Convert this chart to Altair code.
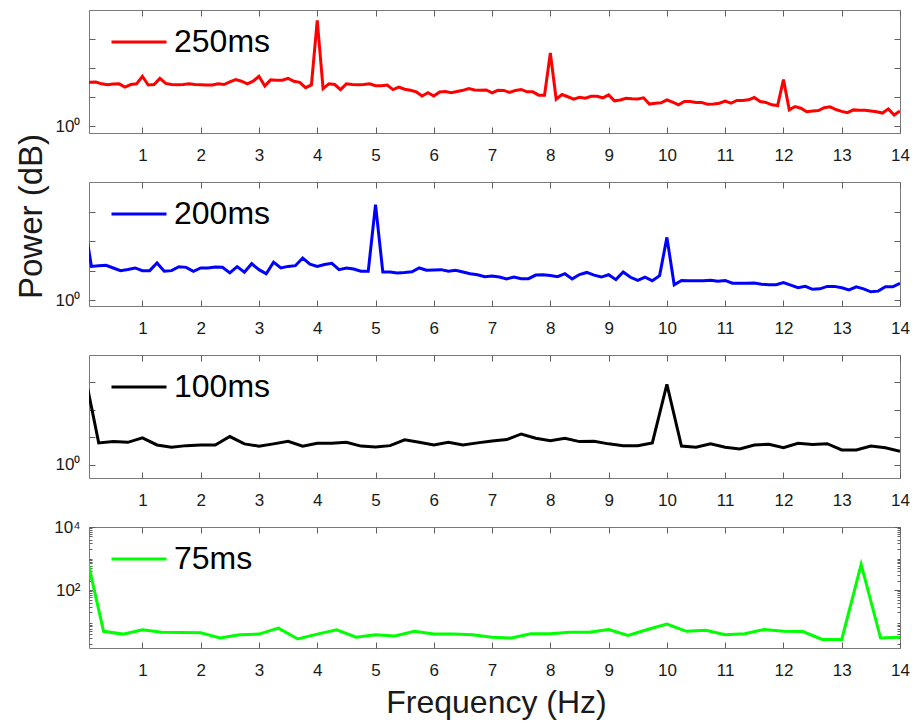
import altair as alt
import pandas as pd

FONT = "Liberation Sans"

# Power spectra (one value per frequency bin, bin 0 = DC) for each stimulus period
power_250 = [
    31, 32, 33, 28.5, 26.5, 28, 28.5, 22, 27, 28.5,
    52, 26, 27, 44, 29.5, 27, 26.5, 27, 28.5, 27,
    26.5, 26, 26, 28.5, 27, 33, 40, 35, 28.5, 35,
    52, 24, 39, 38, 38, 44, 35, 32, 21, 26,
    4400, 19.6, 28.5, 27, 18, 28.5, 27, 26.5, 27, 28.5,
    24.5, 24.5, 26, 18, 22, 18.5, 17, 15, 10.8, 14,
    10.8, 15, 15.5, 14, 15.5, 17, 19.6, 17.5, 17, 17.5,
    14, 17, 16.9, 14.3, 16.9, 18.2, 15.1, 15.1, 11.6, 11.6,
    330, 8.4, 12.2, 10.2, 8.5, 9.8, 9.1, 10.6, 10.6, 9.4,
    11.8, 7.4, 7.9, 9.1, 8.8, 8.6, 9.4, 5.7, 6.1, 6.3,
    7.9, 6.7, 5.4, 7.0, 7.0, 6.5, 6.5, 5.6, 5.7, 6.1,
    7.2, 6.1, 7.6, 7.6, 8.0, 9.6, 7.0, 6.5, 5.4, 5.1,
    40, 3.6, 4.7, 4.1, 3.1, 3.3, 3.4, 4.3, 4.6, 3.7,
    3.2, 2.9, 3.6, 3.5, 3.5, 3.3, 3.1, 2.8, 3.9, 2.4,
    3.3,
]
power_200 = [
    470,
    13.8, 14.6, 15, 12.2, 9.9, 10.9, 12.2, 9.9,
    9.9, 18, 9.4, 9.9, 13.5, 12.8, 9.4, 12.2,
    12.2, 13.1, 12.8, 8.3, 13.5, 8.7, 17, 10.7,
    7.8, 19.2, 12.2, 13.8, 14.6, 26.6, 16.5, 13.8,
    15.9, 17.5, 10.7, 12.2, 11.2, 9.4, 9.4, 1700,
    8.9, 8.9, 8.3, 8.5, 9.1, 12.2, 10.2, 10.4,
    10.7, 9.4, 10.2, 8.9, 7.8, 7.2, 6.2, 6.5,
    6.0, 5.2, 6.0, 5.3, 5.3, 7.0, 7.2, 6.8,
    6.2, 7.8, 5.2, 7.3, 8.6, 7.0, 6.0, 7.2,
    4.9, 8.9, 5.9, 4.6, 6.0, 4.5, 6.7, 133,
    3.3, 4.6, 4.5, 4.5, 4.5, 4.7, 4.3, 4.6,
    3.7, 3.7, 3.7, 3.8, 3.4, 3.3, 3.3, 3.9,
    3.2, 2.6, 2.9, 2.3, 2.4, 2.9, 2.9, 2.6,
    2.2, 2.8, 2.4, 1.9, 2.0, 2.8, 2.8, 3.7,
]
power_100 = [
    2570,
    6.3, 7.0, 6.6, 9.6,
    5.3, 4.4, 5.0, 5.3,
    5.3, 10.7, 5.8, 4.8,
    5.8, 7.2, 4.8, 6.1,
    6.1, 6.6, 4.8, 4.5,
    5.0, 8.1, 6.6, 5.3,
    6.6, 5.3, 6.3, 7.4,
    8.3, 13.3, 9.3, 7.6,
    9.3, 7.0, 7.2, 5.8,
    5.0, 5.0, 6.3, 860,
    4.8, 4.4, 5.8, 4.4,
    3.8, 5.3, 5.6, 4.2,
    6.1, 5.5, 5.9, 3.5,
    3.5, 4.8, 4.2, 3.1,
]
power_75 = [
    2610,
    4.9, 4.0, 5.5, 4.6, 4.5, 4.4,
    3.0, 3.8, 4.0, 6.2, 2.8, 4.0,
    5.5, 3.2, 3.8, 3.5, 4.9, 4.0,
    4.0, 3.8, 3.2, 3.0, 4.1, 4.1,
    4.6, 4.6, 5.6, 3.6, 5.6, 8.3,
    4.9, 5.3, 3.8, 4.1, 5.6, 4.9,
    4.8, 2.7, 2.7, 650, 3.0, 3.2,
]

# Frequency resolution (Hz per bin) of each spectrum
bin_width = {"250ms": 1 / 10, "200ms": 1 / 8, "100ms": 1 / 4, "75ms": 1 / 3}

labels = ["250ms", "200ms", "100ms", "75ms"]
colors = ["#FF0000", "#0000FF", "#000000", "#00FF00"]
spectra = [power_250, power_200, power_100, power_75]
y_lower = [0.575, 0.627, 0.331, 1.45]
heights = [123, 124, 123, 121]

x_ticks = list(range(1, 15))
X_MIN, X_MAX = 1 / 12, 14
Y_MAX = 10000
PANEL_W = 811
TICK = 6


def minor_ticks(lo):
    vals = []
    for dec in [1, 10, 100, 1000]:
        for k in range(2, 10):
            v = k * dec
            if v >= lo:
                vals.append(v)
    vals.append(1000)
    return sorted(set(vals))


def panel(i):
    label, color, power = labels[i], colors[i], spectra[i]
    step = bin_width[label]
    df = pd.DataFrame({
        "freq": [k * step for k in range(len(power))],
        "power": power,
        "series": label,
    })
    last = i == 3
    xscale = alt.Scale(domain=[X_MIN, X_MAX], nice=False, zero=False)
    yscale = alt.Scale(type="log", domain=[y_lower[i], Y_MAX], nice=False)

    if last:
        major = [100, 10000]
        expr = "datum.value == 100 ? '10²' : datum.value == 10000 ? '10⁴' : ''"
    else:
        major = [1, 10, 100, 1000]
        expr = "datum.value == 1 ? '10⁰' : ''"

    x_axis = dict(orient="bottom", values=x_ticks, format="d", offset=-TICK,
                  tickSize=TICK, domain=False, grid=False, labelPadding=14,
                  labelFlush=False, labelFontSize=17)
    if last:
        x_axis.update(title="Frequency (Hz)", titleFontSize=32, titleX=407,
                      titleY=45, titleBaseline="top", titleAlign="center")
    else:
        x_axis.update(title=None)

    y_axis = dict(orient="left", values=major, labelExpr=expr, offset=-TICK,
                  tickSize=TICK, domain=False, grid=False, labelPadding=9,
                  labelFontSize=17)
    if i == 1:
        y_axis.update(title="Power (dB)", titleFontSize=33, titleAngle=270,
                      titleX=-47, titleY=34, titleAlign="center",
                      titleBaseline="bottom")
    else:
        y_axis.update(title=None)

    base = alt.Chart(df)
    line = base.mark_line(strokeWidth=3, clip=True).encode(
        x=alt.X("freq:Q", scale=xscale, axis=alt.Axis(**x_axis)),
        y=alt.Y("power:Q", scale=yscale, axis=alt.Axis(**y_axis)),
        color=alt.Color(
            "series:N",
            scale=alt.Scale(domain=[label], range=[color]),
            legend=alt.Legend(
                orient="none", legendX=21, legendY=3, title=None,
                symbolType="stroke", symbolSize=3025, symbolStrokeWidth=3,
                labelFontSize=32, labelFont=FONT, labelOffset=6,
                labelColor="black", padding=0,
            ),
        ),
    )
    # ticks mirrored on the top and right edges of the box
    mirror = base.mark_line(opacity=0, clip=True).encode(
        x=alt.X("freq:Q", scale=xscale,
                axis=alt.Axis(orient="top", values=x_ticks, labels=False,
                              offset=-TICK, tickSize=TICK, domain=False,
                              grid=False, title=None)),
        y=alt.Y("power:Q", scale=yscale,
                axis=alt.Axis(orient="right", values=major, labels=False,
                              offset=-TICK, tickSize=TICK, domain=False,
                              grid=False, title=None)),
    )
    layers = [line, mirror]
    if last:
        minor = minor_ticks(y_lower[i])
        for side in ["left", "right"]:
            layers.append(base.mark_line(opacity=0, clip=True).encode(
                x=alt.X("freq:Q", scale=xscale, axis=None),
                y=alt.Y("power:Q", scale=yscale,
                        axis=alt.Axis(orient=side, values=minor, labels=False,
                                      offset=-3, tickSize=3, domain=False,
                                      grid=False, title=None)),
            ))
    return alt.layer(*layers).resolve_axis(
        x="independent", y="independent"
    ).properties(width=PANEL_W, height=heights[i])


chart = alt.vconcat(
    *[panel(i) for i in range(4)], spacing=49, bounds="flush"
).resolve_scale(
    color="independent", x="independent", y="independent"
).properties(
    padding={"left": 14, "top": 9, "right": 5, "bottom": 2}
).configure(
    font=FONT
).configure_view(
    stroke="#7a7a7a", strokeWidth=1
).configure_axis(
    labelFont=FONT, labelColor="#1a1a1a", tickColor="#606060", tickWidth=1,
    titleFont=FONT, titleFontWeight="normal", titleColor="#1a1a1a"
)

chart.save("out.html", embed_options={"renderer": "svg", "actions": False})
